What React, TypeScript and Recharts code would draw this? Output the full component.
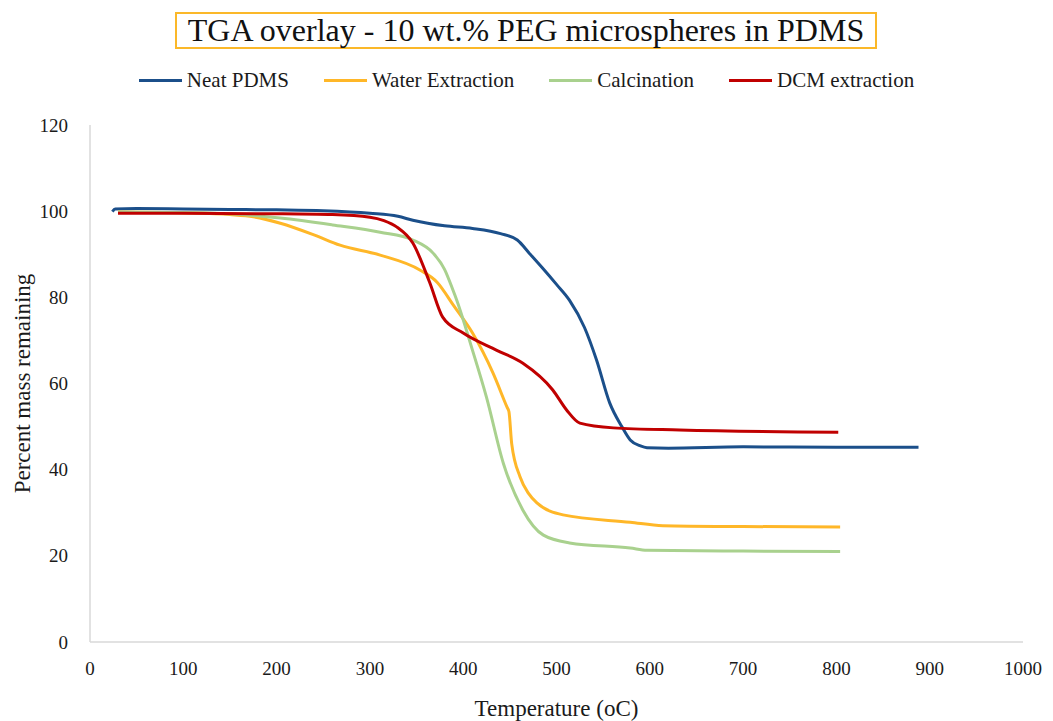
import { LineChart, Line, XAxis, YAxis } from 'recharts';

const FONT = '"Liberation Serif", "Times New Roman", serif';

// Neat PDMS
const neatTemp = [24, 27, 50, 100, 150, 200, 250, 300, 330, 346, 380, 410, 440, 458, 471, 485, 500, 514, 530, 543, 557, 570, 579, 590, 597, 620, 700, 800, 888];
const neatMass = [99.9, 100.5, 100.6, 100.5, 100.4, 100.3, 100.1, 99.5, 98.8, 97.9, 96.6, 96.0, 94.8, 93.3, 90.2, 86.8, 83.0, 79.3, 73.0, 65.4, 55.5, 50.0, 46.9, 45.5, 45.1, 45.0, 45.3, 45.2, 45.2];

// Water Extraction
const waterTemp = [30, 100, 150, 175, 204, 240, 268, 311, 354, 372, 390, 410, 432, 447, 449, 452, 461, 470, 479, 507, 579, 614, 700, 804];
const waterMass = [99.8, 99.6, 99.2, 98.7, 97.2, 94.5, 92.1, 89.8, 86.3, 83.5, 78.0, 71.7, 62.4, 54.5, 53.5, 46.0, 38.3, 34.5, 32.3, 29.5, 27.8, 27.0, 26.8, 26.7];

// Calcination
const calcTemp = [30, 100, 150, 204, 260, 311, 346, 368, 380, 389, 393, 410, 425, 443, 464, 486, 514, 579, 597, 700, 804];
const calcMass = [99.8, 99.7, 99.4, 98.4, 96.8, 95.1, 93.3, 90.2, 86.5, 81.7, 79.4, 67.7, 56.8, 41.5, 30.6, 24.8, 23.0, 21.8, 21.3, 21.1, 21.0];

// DCM extraction
const dcmTemp = [30, 100, 200, 260, 300, 315, 329, 346, 364, 378, 400, 436, 464, 496, 511, 525, 561, 632, 802];
const dcmMass = [99.5, 99.5, 99.4, 99.2, 98.6, 97.8, 96.3, 92.6, 83.5, 75.4, 71.7, 67.7, 64.7, 58.5, 53.8, 50.8, 49.7, 49.2, 48.7];

const xTicks = [0, 100, 200, 300, 400, 500, 600, 700, 800, 900, 1000];
const yTicks = [0, 20, 40, 60, 80, 100, 120];

const series = [
  { name: 'Neat PDMS', color: '#1b4f8a', temp: neatTemp, mass: neatMass },
  { name: 'Water Extraction', color: '#ffb728', temp: waterTemp, mass: waterMass },
  { name: 'Calcination', color: '#a9d18e', temp: calcTemp, mass: calcMass },
  { name: 'DCM extraction', color: '#c00000', temp: dcmTemp, mass: dcmMass },
];

const toPoints = (temp: number[], mass: number[]) =>
  temp.map((t, i) => ({ t, v: mass[i] }));

const XTick = (props: any) => (
  <text
    x={props.x}
    y={props.y}
    dy="0.71em"
    textAnchor="middle"
    style={{ fontFamily: FONT, fontSize: 19, fill: '#1a1a1a' }}
  >
    {props.payload.value}
  </text>
);

const YTick = (props: any) => (
  <text
    x={props.x}
    y={props.y}
    dy="0.35em"
    textAnchor="end"
    style={{ fontFamily: FONT, fontSize: 19, fill: '#1a1a1a' }}
  >
    {props.payload.value}
  </text>
);

function LegendRow() {
  return (
    <div
      style={{
        position: 'absolute',
        left: 0,
        top: 68,
        width: 1053,
        display: 'flex',
        justifyContent: 'center',
        alignItems: 'center',
        fontSize: 21,
        color: '#1a1a1a',
      }}
    >
      {series.map((s, i) => (
        <div
          key={s.name}
          style={{ display: 'flex', alignItems: 'center', marginLeft: i === 0 ? 0 : 35 }}
        >
          <span style={{ width: 43, height: 3, background: s.color, marginRight: 5 }} />
          <span>{s.name}</span>
        </div>
      ))}
    </div>
  );
}

export default function App() {
  return (
    <div
      style={{
        position: 'absolute',
        left: 0,
        top: 0,
        width: 1053,
        height: 721,
        background: '#fff',
        fontFamily: FONT,
      }}
    >
      <div
        style={{
          position: 'absolute',
          left: 175,
          top: 12,
          width: 698,
          height: 33,
          border: '2px solid #fbb829',
          fontSize: 32,
          lineHeight: '33px',
          textAlign: 'center',
          color: '#111',
          whiteSpace: 'nowrap',
        }}
      >
        TGA overlay - 10 wt.% PEG microspheres in PDMS
      </div>
      <LegendRow />
      <LineChart
        width={1053}
        height={721}
        margin={{ top: 125, right: 30, bottom: 0, left: 0 }}
        style={{ fontFamily: FONT }}
      >
        <XAxis
          type="number"
          dataKey="t"
          domain={[0, 1000]}
          ticks={xTicks}
          height={79}
          tickLine={false}
          tickMargin={14}
          axisLine={{ stroke: '#d9d9d9', strokeWidth: 1.5 }}
          tick={XTick}
          label={{
            value: 'Temperature (oC)',
            position: 'insideBottom',
            offset: 5,
            style: { fontSize: 23, fill: '#1a1a1a' },
          }}
        />
        <YAxis
          type="number"
          domain={[0, 120]}
          ticks={yTicks}
          width={90}
          tickLine={false}
          tickMargin={16}
          axisLine={{ stroke: '#d9d9d9', strokeWidth: 1.5 }}
          tick={YTick}
          label={{
            value: 'Percent mass remaining',
            angle: -90,
            position: 'insideLeft',
            offset: 22,
            textAnchor: 'middle',
            style: { fontSize: 23, fill: '#1a1a1a', textAnchor: 'middle' },
          }}
        />
        {series.map((s) => (
          <Line
            key={s.name}
            name={s.name}
            data={toPoints(s.temp, s.mass)}
            dataKey="v"
            type="monotone"
            stroke={s.color}
            strokeWidth={3}
            dot={false}
            activeDot={false}
            isAnimationActive={false}
          />
        ))}
      </LineChart>
    </div>
  );
}
